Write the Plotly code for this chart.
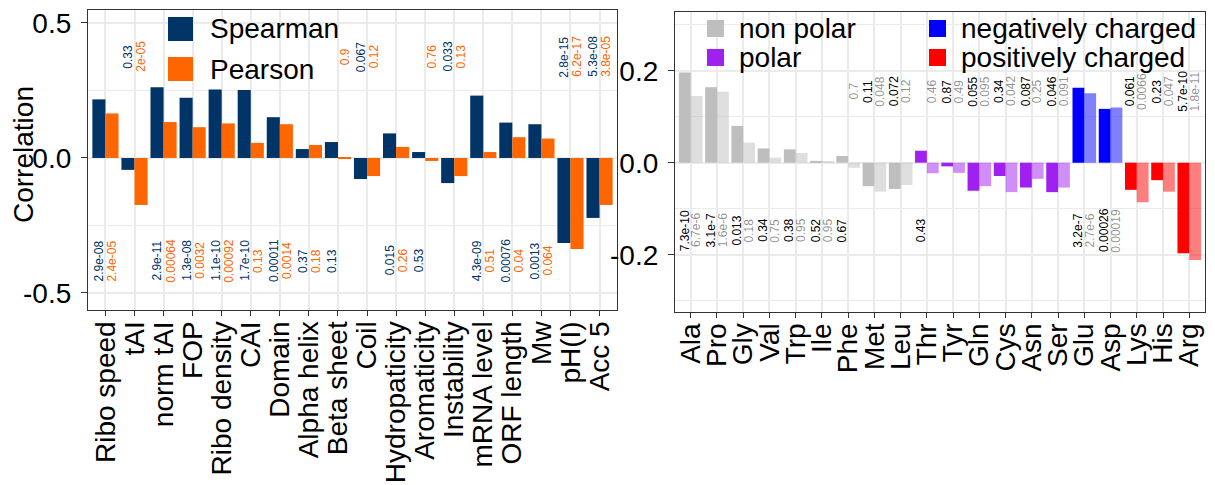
import plotly.graph_objects as go

# the page body adds an 8px margin, so the figure is drawn 8px smaller and all
# reference pixel positions are shifted by that offset
OFF = 8
W, H = 1215 - OFF, 485 - OFF
FONT = "Liberation Sans, Arial, Helvetica, sans-serif"

# ---------------- Left panel data ----------------
left_cats = ["Ribo speed", "tAI", "norm tAI", "FOP", "Ribo density", "CAI", "Domain",
             "Alpha helix", "Beta sheet", "Coil", "Hydropaticity", "Aromaticity",
             "Instability", "mRNA level", "ORF length", "Mw", "pH(I)", "Acc 5"]
left_spearman = [0.217, -0.044, 0.262, 0.223, 0.254, 0.252, 0.151, 0.033, 0.059, -0.078,
                 0.091, 0.022, -0.093, 0.231, 0.131, 0.125, -0.315, -0.222]
left_pearson = [0.165, -0.174, 0.133, 0.114, 0.128, 0.056, 0.125, 0.048, -0.004, -0.067,
                0.041, -0.011, -0.067, 0.022, 0.077, 0.072, -0.337, -0.174]
left_p_spearman = ["2.9e-08", "0.33", "2.9e-11", "1.3e-08", "1.1e-10", "1.7e-10", "0.00011",
                   "0.37", "0.13", "0.067", "0.015", "0.53", "0.033", "4.3e-09", "0.00076",
                   "0.0013", "2.8e-15", "5.3e-08"]
left_p_pearson = ["2.4e-05", "2e-05", "0.00064", "0.0032", "0.00092", "0.13", "0.0014",
                  "0.18", "0.9", "0.12", "0.26", "0.76", "0.13", "0.51", "0.04", "0.064",
                  "6.2e-17", "3.8e-05"]
left_yticks = [-0.5, 0.0, 0.5]
left_yticktext = ["-0.5", "0.0", "0.5"]
left_series = ["Spearman", "Pearson"]

# ---------------- Right panel data ----------------
right_cats = ["Ala", "Pro", "Gly", "Val", "Trp", "Ile", "Phe", "Met", "Leu", "Thr", "Tyr",
              "Gln", "Cys", "Asn", "Ser", "Glu", "Asp", "Lys", "His", "Arg"]
right_groups = ["non polar"] * 9 + ["polar"] * 6 + ["negatively charged"] * 2 + ["positively charged"] * 3
right_spearman = [0.196, 0.164, 0.080, 0.031, 0.029, 0.004, 0.0145, -0.051, -0.057, 0.026,
                  -0.008, -0.061, -0.029, -0.054, -0.064, 0.163, 0.117, -0.059, -0.038, -0.197]
right_pearson = [0.145, 0.154, 0.0435, 0.011, 0.021, 0.003, -0.011, -0.063, -0.0485, -0.023,
                 -0.022, -0.051, -0.064, -0.035, -0.054, 0.151, 0.12, -0.086, -0.063, -0.2115]
right_p_spearman = ["7.3e-10", "3.1e-7", "0.013", "0.34", "0.38", "0.52", "0.67", "0.11",
                    "0.072", "0.43", "0.87", "0.055", "0.34", "0.087", "0.046", "3.2e-7",
                    "0.00026", "0.061", "0.23", "5.7e-10"]
right_p_pearson = ["6.7e-6", "1.6e-6", "0.18", "0.75", "0.95", "0.95", "0.7", "0.048", "0.12",
                   "0.46", "0.49", "0.095", "0.042", "0.25", "0.091", "2.7e-6", "0.00019",
                   "0.0066", "0.047", "1.8e-11"]
right_yticks = [-0.2, 0.0, 0.2]
right_yticktext = ["-0.2", "0.0", "0.2"]
group_names = ["non polar", "polar", "negatively charged", "positively charged"]
group_colors = {"non polar": "#BEBEBE", "polar": "#A020F0",
                "negatively charged": "#0000FF", "positively charged": "#FF0000"}

SPEAR_COL = "#003366"
PEAR_COL = "#FF6600"
GRID = "#EBEBEB"
LINE = "#333333"


def px_x(p):
    return (p - OFF) / W


def px_y(p):
    return 1 - (p - OFF) / H


fig = go.Figure()

fig.add_trace(go.Bar(x=left_cats, y=left_spearman, name=left_series[0], marker_color=SPEAR_COL,
                     marker_line_width=0, xaxis="x", yaxis="y", showlegend=False))
fig.add_trace(go.Bar(x=left_cats, y=left_pearson, name=left_series[1], marker_color=PEAR_COL,
                     marker_line_width=0, xaxis="x", yaxis="y", showlegend=False))

rcols = [group_colors[g] for g in right_groups]
fig.add_trace(go.Bar(x=right_cats, y=right_spearman, marker=dict(color=rcols, line_width=0),
                     xaxis="x2", yaxis="y2", showlegend=False))
fig.add_trace(go.Bar(x=right_cats, y=right_pearson, marker=dict(color=rcols, line_width=0, opacity=0.5),
                     xaxis="x2", yaxis="y2", showlegend=False))

annotations = []
off = 0.225
# left p-value labels
L_TOP, L_BOT = 0.375, -0.38
for i in range(len(left_cats)):
    for val, txt, dx, col in ((left_spearman[i], left_p_spearman[i], -off, SPEAR_COL),
                              (left_pearson[i], left_p_pearson[i], off, PEAR_COL)):
        annotations.append(dict(x=i + dx, y=L_TOP if val < 0 else L_BOT, xref="x", yref="y",
                                text=txt, textangle=-90, showarrow=False,
                                xanchor="center", yanchor="middle",
                                font=dict(family=FONT, size=12, color=col)))
# right p-value labels
R_TOP, R_BOT = 0.155, -0.147
for i in range(len(right_cats)):
    for val, txt, dx, col in ((right_spearman[i], right_p_spearman[i], -off, "#000000"),
                              (right_pearson[i], right_p_pearson[i], off, "rgba(0,0,0,0.45)")):
        annotations.append(dict(x=i + dx, y=R_TOP if val < 0 else R_BOT, xref="x2", yref="y2",
                                text=txt, textangle=-90, showarrow=False,
                                xanchor="center", yanchor="middle",
                                font=dict(family=FONT, size=12, color=col)))

# y-axis title
annotations.append(dict(x=px_x(24), y=px_y(155), xref="paper", yref="paper", text="Correlation",
                        textangle=-90, showarrow=False, xanchor="center", yanchor="middle",
                        font=dict(family=FONT, size=28, color="black")))

shapes = []
# left legend (manual)
leg_left = [(left_series[0], SPEAR_COL, 17, 41), (left_series[1], PEAR_COL, 57, 81)]
for name, col, y0, y1 in leg_left:
    shapes.append(dict(type="rect", xref="paper", yref="paper", x0=px_x(168), x1=px_x(193),
                       y0=px_y(y1), y1=px_y(y0), fillcolor=col, line_width=0))
    annotations.append(dict(x=px_x(208), y=px_y((y0 + y1) / 2), xref="paper", yref="paper",
                            text=name, showarrow=False, xanchor="left", yanchor="middle",
                            font=dict(family=FONT, size=28, color="black")))
# right legend (manual)
leg_right = [(group_names[0], 707, 20), (group_names[1], 707, 49),
             (group_names[2], 929, 20), (group_names[3], 929, 49)]
for name, x0, y0 in leg_right:
    shapes.append(dict(type="rect", xref="paper", yref="paper", x0=px_x(x0), x1=px_x(x0 + 17),
                       y0=px_y(y0 + 17), y1=px_y(y0), fillcolor=group_colors[name], line_width=0))
    annotations.append(dict(x=px_x(x0 + 30), y=px_y(y0 + 8.5), xref="paper", yref="paper",
                            text=name, showarrow=False, xanchor="left", yanchor="middle",
                            font=dict(family=FONT, size=28, color="black")))

common_x = dict(type="category", tickmode="linear", tick0=0, dtick=1,
                showgrid=True, gridcolor=GRID, gridwidth=1.6, showline=True,
                mirror=True, linecolor=LINE, linewidth=1.3, ticks="outside", ticklen=5,
                tickcolor=LINE, tickwidth=1.3, tickangle=-90, automargin=False,
                ticklabelstandoff=-6, ticklabeloverflow="allow",
                tickfont=dict(family=FONT, size=28, color="black"), zeroline=False)
common_y = dict(showgrid=True, gridcolor=GRID, gridwidth=1.6, showline=True, mirror=True,
                linecolor=LINE, linewidth=1.3, ticks="outside", ticklen=6, tickcolor=LINE,
                tickwidth=1.3, zeroline=False, automargin=False, tickmode="array",
                ticklabelstandoff=4, ticklabeloverflow="allow",
                tickfont=dict(family=FONT, size=28, color="black"))

fig.update_layout(
    width=W, height=H, margin=dict(l=0, r=0, t=0, b=0),
    paper_bgcolor="white", plot_bgcolor="white",
    barmode="group", bargap=0.1, bargroupgap=0,
    showlegend=False,
    xaxis=dict(common_x, domain=[px_x(88), px_x(617)], range=[-0.6, len(left_cats) - 0.4],
               anchor="y"),
    yaxis=dict(common_y, domain=[px_y(310), px_y(10)], range=[-0.563, 0.548], anchor="x",
               tickvals=left_yticks, ticktext=left_yticktext,
               minor=dict(tickmode="array", tickvals=[-0.25, 0.25], showgrid=True,
                          gridcolor=GRID, gridwidth=0.8, ticks="")),
    xaxis2=dict(common_x, domain=[px_x(675), px_x(1205)], range=[-0.6, len(right_cats) - 0.4],
                anchor="y2"),
    yaxis2=dict(common_y, domain=[px_y(312), px_y(12)], range=[-0.3246, 0.3276], anchor="x2",
                tickvals=right_yticks, ticktext=right_yticktext,
                minor=dict(tickmode="array", tickvals=[-0.3, -0.1, 0.1, 0.3], showgrid=True,
                           gridcolor=GRID, gridwidth=0.8, ticks="")),
    annotations=annotations,
    shapes=shapes,
)

fig.write_html("out.html")
